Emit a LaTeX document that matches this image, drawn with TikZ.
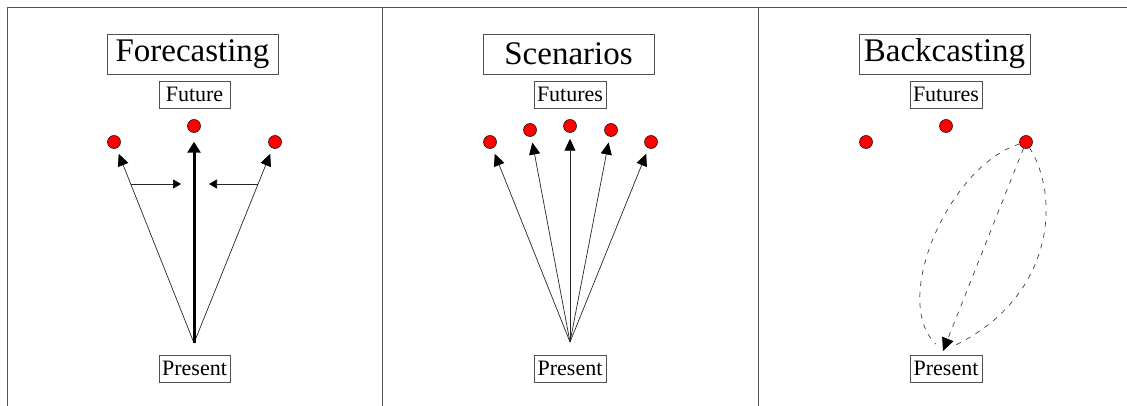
\documentclass[tikz,border=0pt]{standalone}
\usepackage{fontspec}
\setmainfont{Liberation Serif}
\newfontfamily\timesfont{Liberation Serif}
\usetikzlibrary{arrows.meta}
\definecolor{framegray}{HTML}{555555}
\definecolor{boxgray}{HTML}{505050}
\definecolor{dotred}{HTML}{FF0000}
\tikzset{
  titlebox/.style={draw=boxgray, line width=0.8pt, inner sep=0pt, minimum width=171pt, minimum height=40pt, font=\timesfont\fontsize{33}{36}\selectfont},
  labelbox/.style={draw=boxgray, line width=0.8pt, inner sep=0pt, minimum width=71pt, minimum height=27pt, font=\timesfont\fontsize{22}{24}\selectfont},
  fdot/.style={circle, draw=black, line width=0.5pt, fill=dotred, inner sep=0pt, minimum size=13pt},
  thinarrow/.style={draw=black!85, line width=0.7pt, -{Triangle[length=12pt,width=11pt,color=black]}, shorten >=6pt},
  thickarrow/.style={draw=black, line width=3pt, -{Triangle[length=11pt,width=13pt]}, shorten >=9pt},
  sidearrow/.style={draw=black!85, line width=0.7pt, -{Triangle[length=8pt,width=9pt,color=black]}},
  dashline/.style={draw=black!75, line width=0.7pt, dash pattern=on 5pt off 6pt},
  dasharrow/.style={dashline, -{Triangle[length=13pt,width=12pt,color=black]}},
  frameline/.style={draw=framegray, line width=1pt}
}
\begin{document}
\begin{tikzpicture}[x=1pt,y=-1pt]
\useasboundingbox (0,0) rectangle (1127,406);
% frame
\coordinate (fa) at (7,8);
\coordinate (fb) at (1127,8);
\coordinate (fc) at (7,406);
\coordinate (fd) at (382,8);
\coordinate (fe) at (382,406);
\coordinate (ff) at (758,8);
\coordinate (fg) at (758,406);
\draw[frameline] (fc) -- (fa) -- (fb);
\draw[frameline] (fd) -- (fe);
\draw[frameline] (ff) -- (fg);

% Panel 1: Forecasting
\node[titlebox] (t1) at (192.5,54) {Forecasting};
\node[labelbox] (f1) at (194.5,94.5) {Future};
\node[labelbox] (p1) at (194.5,368.5) {Present};
\node[fdot] (d11) at (114,142) {};
\node[fdot] (d12) at (194,126) {};
\node[fdot] (d13) at (275,142) {};
\coordinate (o1) at (194,343);
\draw[thinarrow] (o1) -- (d11);
\draw[thinarrow] (o1) -- (d13);
\draw[thickarrow] (o1) -- (d12);
\coordinate (h1a) at (131,184);
\coordinate (h1b) at (181,184);
\coordinate (h2a) at (258,184);
\coordinate (h2b) at (209,184);
\draw[sidearrow] (h1a) -- (h1b);
\draw[sidearrow] (h2a) -- (h2b);

% Panel 2: Scenarios
\node[titlebox] (t2) at (568.5,54) {Scenarios};
\node[labelbox, minimum width=72pt] (f2) at (570,94.5) {Futures};
\node[labelbox, minimum width=72pt] (p2) at (570,368.5) {Present};
\node[fdot] (d21) at (490,142) {};
\node[fdot] (d22) at (530,130) {};
\node[fdot] (d23) at (570,126) {};
\node[fdot] (d24) at (611,130) {};
\node[fdot] (d25) at (651,142) {};
\coordinate (o2) at (570,342);
\foreach \d in {d21,d22,d23,d24,d25}{
  \draw[thinarrow] (o2) -- (\d);
}

% Panel 3: Backcasting
\node[titlebox] (t3) at (944.5,54) {Backcasting};
\node[labelbox, minimum width=72pt] (f3) at (946,94.5) {Futures};
\node[labelbox, minimum width=72pt] (p3) at (946,368.5) {Present};
\node[fdot] (d31) at (866,142) {};
\node[fdot] (d32) at (946,126) {};
\node[fdot] (d33) at (1026,142) {};
\coordinate (e3) at (943,351);
\draw[dashline, shorten >=10pt] (d33) .. controls (950,165) and (890,300) .. (e3);
\draw[dashline, shorten >=10pt] (d33) .. controls (1062,200) and (1052,300) .. (e3);
\draw[dasharrow] (d33) -- (e3);
\end{tikzpicture}
\end{document}
